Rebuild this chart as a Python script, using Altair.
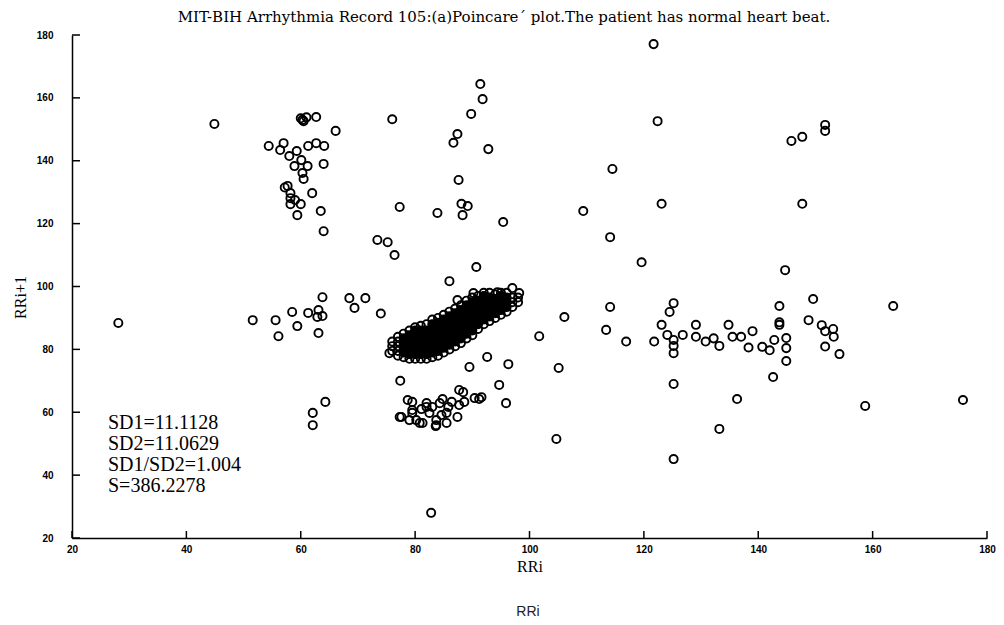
import altair as alt
import pandas as pd

title_text = "MIT-BIH Arrhythmia Record 105:(a)Poincare\u00b4 plot.The patient has normal heart beat."
tick_values = [20, 40, 60, 80, 100, 120, 140, 160, 180]
stats_lines = ["SD1=11.1128", "SD2=11.0629", "SD1/SD2=1.004", "S=386.2278"]

# scattered beats (RRi, RRi+1)
scatter_pts = [
    (44.9, 151.7), (60.0, 153.5), (60.5, 152.6), (61.0, 153.8), (60.3, 153.0), (62.7, 153.9),
    (66.1, 149.5), (54.4, 144.7), (57.0, 145.6), (56.4, 143.4), (61.3, 144.7), (62.7, 145.6),
    (64.1, 144.7), (59.3, 143.1), (58.0, 141.5), (60.1, 140.2), (58.9, 138.3), (61.2, 138.3),
    (60.3, 136.1), (60.5, 134.2), (64.0, 139.0), (57.2, 131.5), (57.7, 132.0), (58.2, 129.7),
    (62.0, 129.7), (58.2, 128.1), (58.2, 126.2), (60.0, 126.2), (59.0, 127.5), (59.4, 122.7),
    (63.5, 124.0), (64.0, 117.6),
    (73.4, 114.8), (75.2, 114.1), (76.4, 110.0), (76.0, 153.2), (77.3, 125.3), (83.9, 123.4),
    (91.4, 164.4), (91.8, 159.6), (89.8, 154.9), (87.4, 148.5), (86.7, 145.7), (92.8, 143.7),
    (87.6, 133.9), (88.1, 126.3), (89.2, 125.6), (88.3, 122.7), (95.4, 120.5), (90.7, 106.2),
    (86.0, 101.7),
    (121.7, 177.1), (122.4, 152.6), (114.5, 137.4), (123.1, 126.3), (109.4, 124.0), (114.1, 115.7),
    (119.6, 107.7), (151.7, 151.4), (151.7, 149.5), (145.8, 146.3), (147.7, 147.6), (147.7, 126.3),
    (144.7, 105.2),
    (28.1, 88.4), (51.6, 89.3), (55.6, 89.3), (56.1, 84.2), (58.5, 91.9), (59.4, 87.4),
    (61.3, 91.6), (63.1, 92.5), (63.8, 90.6), (62.9, 90.3), (63.1, 85.2), (63.8, 96.6),
    (68.5, 96.3), (71.3, 96.3), (69.4, 93.2), (74.0, 91.4),
    (149.6, 96.0), (163.6, 93.8), (114.1, 93.5), (106.1, 90.3), (101.7, 84.2), (125.2, 94.7),
    (124.5, 91.9), (123.1, 87.8), (113.4, 86.2), (116.9, 82.5), (121.8, 82.5), (124.1, 84.6),
    (125.2, 83.0), (125.2, 81.1), (125.2, 78.8), (126.8, 84.6), (129.1, 87.8), (129.1, 84.0),
    (130.8, 82.5), (132.2, 83.5), (133.2, 81.1), (134.8, 87.8), (135.5, 84.0), (137.0, 84.0),
    (139.0, 85.8), (138.3, 80.6), (140.7, 80.8), (142.0, 79.7), (142.8, 83.0), (144.9, 83.6),
    (144.9, 80.4), (144.9, 76.3), (143.7, 93.8), (143.7, 87.8), (143.7, 88.6), (142.6, 71.2),
    (148.8, 89.3), (151.1, 87.7), (153.1, 86.5), (151.7, 85.8), (153.2, 84.0), (151.7, 80.9),
    (154.2, 78.5),
    (105.1, 74.1), (125.2, 69.0), (136.3, 64.2), (133.2, 54.7), (158.7, 62.0), (175.8, 63.9),
    (104.7, 51.5), (125.2, 45.1), (95.9, 62.9), (94.7, 68.7),
    (75.5, 78.8), (92.6, 77.6), (89.5, 74.4), (96.3, 75.3), (77.4, 70.0), (87.7, 67.1),
    (98.2, 97.9), (97.0, 99.5), (94.4, 98.2), (90.2, 97.9), (87.4, 95.7),
    (88.4, 66.4), (91.2, 64.2), (88.6, 63.3), (84.8, 64.2), (79.5, 63.3), (87.7, 62.3),
    (85.8, 61.7), (77.6, 58.5), (79.5, 60.7), (81.1, 61.0), (82.5, 59.8), (80.2, 57.5),
    (81.3, 56.6), (83.7, 57.5), (83.6, 55.6), (84.6, 59.1), (87.4, 58.5), (85.5, 56.6),
    (79.0, 57.5), (83.0, 61.7), (84.3, 62.9), (86.4, 63.3), (82.0, 62.9), (90.4, 64.5),
    (91.6, 64.8), (78.7, 63.9), (77.3, 58.5), (80.8, 56.6), (83.7, 55.9), (85.5, 59.8),
    (79.5, 59.8), (82.0, 61.7),
    (62.1, 59.8), (62.1, 55.9), (64.3, 63.3), (82.8, 28.0),
]

# dense main cluster of normal beats
blob_pts = [
    (76, 79.5), (76, 81), (76, 82.5),
    (77, 78), (77, 79.5), (77, 81), (77, 82.5), (77, 84),
    (78, 77.5), (78, 79), (78, 80.5), (78, 82), (78, 83.5), (78, 85),
    (79, 77), (79, 78.5), (79, 80), (79, 81.5), (79, 83), (79, 84.5), (79, 86),
    (80, 77), (80, 78.5), (80, 80), (80, 81.5), (80, 83), (80, 84.5), (80, 86), (80, 87),
    (81, 77), (81, 78.5), (81, 80), (81, 81.5), (81, 83), (81, 84.5), (81, 86), (81, 87.5),
    (82, 77), (82, 78.5), (82, 80), (82, 81.5), (82, 83), (82, 84.5), (82, 86), (82, 88),
    (83, 77.5), (83, 79), (83, 80.5), (83, 82), (83, 83.5), (83, 85), (83, 86.5), (83, 88), (83, 89.5),
    (84, 78), (84, 79.5), (84, 81), (84, 82.5), (84, 84), (84, 85.5), (84, 87), (84, 88.5), (84, 90),
    (85, 79), (85, 80.5), (85, 82), (85, 83.5), (85, 85), (85, 86.5), (85, 88), (85, 89.5), (85, 91),
    (86, 80), (86, 81.5), (86, 83), (86, 84.5), (86, 86), (86, 87.5), (86, 89), (86, 90.5), (86, 92),
    (87, 81), (87, 82.5), (87, 84), (87, 85.5), (87, 87), (87, 88.5), (87, 90), (87, 91.5), (87, 93),
    (88, 82), (88, 83.5), (88, 85), (88, 86.5), (88, 88), (88, 89.5), (88, 91), (88, 92.5), (88, 94),
    (89, 83.5), (89, 85), (89, 86.5), (89, 88), (89, 89.5), (89, 91), (89, 92.5), (89, 94), (89, 95.5),
    (90, 84.5), (90, 86), (90, 87.5), (90, 89), (90, 90.5), (90, 92), (90, 93.5), (90, 95), (90, 96.5),
    (91, 86.5), (91, 88), (91, 89.5), (91, 91), (91, 92.5), (91, 94), (91, 95.5), (91, 97),
    (92, 88), (92, 89.5), (92, 91), (92, 92.5), (92, 94), (92, 95.5), (92, 97), (92, 98),
    (93, 89), (93, 90.5), (93, 92), (93, 93.5), (93, 95), (93, 96.5), (93, 98),
    (94, 90), (94, 91.5), (94, 93), (94, 94.5), (94, 96), (94, 97.5),
    (95, 91), (95, 92.5), (95, 94), (95, 95.5), (95, 97), (95, 98),
    (96, 92), (96, 93.5), (96, 95), (96, 96.5), (96, 98),
    (97, 93.5), (97, 95), (97, 96.5),
    (98, 95), (98, 96.5),
]

pts = scatter_pts + blob_pts
df = pd.DataFrame({"rri": [p[0] for p in pts], "rri1": [p[1] for p in pts]})

# the inside of the main cluster is so dense that it prints solid black
blob_df = pd.DataFrame({"rri": [p[0] for p in blob_pts], "rri1": [p[1] for p in blob_pts]})
col_min = blob_df.groupby("rri")["rri1"].transform("min")
col_max = blob_df.groupby("rri")["rri1"].transform("max")
x_lo, x_hi = blob_df["rri"].min(), blob_df["rri"].max()
core_df = blob_df[(blob_df["rri1"] > col_min) & (blob_df["rri1"] < col_max)
                  & (blob_df["rri"] > x_lo + 1) & (blob_df["rri"] < x_hi - 1)]

ticks_df = pd.DataFrame({"rri": tick_values, "rri1": tick_values})
one_row = pd.DataFrame({"a": [0]})

W, H = 915, 503
xs = alt.Scale(domain=[20, 180], nice=False, zero=False)
ys = alt.Scale(domain=[20, 180], nice=False, zero=False)
LABEL_FONT = "Liberation Sans"
SERIF = "Liberation Serif"

x_axis = alt.Axis(
    values=tick_values, tickSize=0, labelPadding=6, domainColor="black", domainWidth=1.5,
    labelFont=LABEL_FONT, labelFontSize=10, labelFontWeight="bold", labelColor="black",
    grid=False, title="RRi", titleFont=SERIF, titleFontSize=16, titleFontWeight="normal",
    titleColor="black", titlePadding=4, labelFlush=False)
y_axis = alt.Axis(
    values=tick_values, tickSize=0, labelPadding=19, domainColor="black", domainWidth=1.5,
    labelFont=LABEL_FONT, labelFontSize=10, labelFontWeight="bold", labelColor="black",
    grid=False, title="RRi+1", titleFont=SERIF, titleFontSize=16, titleFontWeight="normal",
    titleColor="black", titlePadding=8, titleY=262, labelFlush=False)

points = alt.Chart(df).mark_point(
    shape="circle", filled=False, color="black", size=66, strokeWidth=1.9, opacity=1
).encode(
    x=alt.X("rri:Q", scale=xs, axis=x_axis),
    y=alt.Y("rri1:Q", scale=ys, axis=y_axis),
)

core = alt.Chart(core_df).mark_point(
    shape="circle", filled=True, color="black", size=80, opacity=1
).encode(
    x=alt.X("rri:Q", scale=xs, axis=x_axis),
    y=alt.Y("rri1:Q", scale=ys, axis=y_axis),
)

xticks = alt.Chart(ticks_df).mark_rule(color="black", strokeWidth=1.5).encode(
    x=alt.X("rri:Q", scale=xs, axis=x_axis), y=alt.value(H), y2=alt.value(H - 7)
)
yticks = alt.Chart(ticks_df).mark_rule(color="black", strokeWidth=1.5).encode(
    y=alt.Y("rri1:Q", scale=ys, axis=y_axis), x=alt.value(0), x2=alt.value(8)
)

stats = alt.Chart(one_row).mark_text(
    align="left", baseline="middle", font=SERIF, fontSize=20, lineHeight=21, color="black"
).encode(x=alt.value(36), y=alt.value(388), text=alt.value(stats_lines))

title_mark = alt.Chart(one_row).mark_text(
    align="center", baseline="alphabetic", font="DejaVu Serif", fontSize=15, color="black"
).encode(x=alt.value(432), y=alt.value(-13), text=alt.value(title_text))

bottom_label = alt.Chart(one_row).mark_text(
    align="center", baseline="middle", font="Liberation Sans", fontSize=14, color="#222222"
).encode(x=alt.value(456), y=alt.value(577), text=alt.value("RRi"))

chart = alt.layer(points, core, xticks, yticks, stats, title_mark, bottom_label).properties(
    width=W, height=H,
    autosize=alt.AutoSizeParams(type="none"),
    padding={"left": 64, "top": 27, "right": 9, "bottom": 87},
    background="white",
).configure_view(stroke=None)

chart.save("out.html", embed_options={"renderer": "svg", "actions": False})
